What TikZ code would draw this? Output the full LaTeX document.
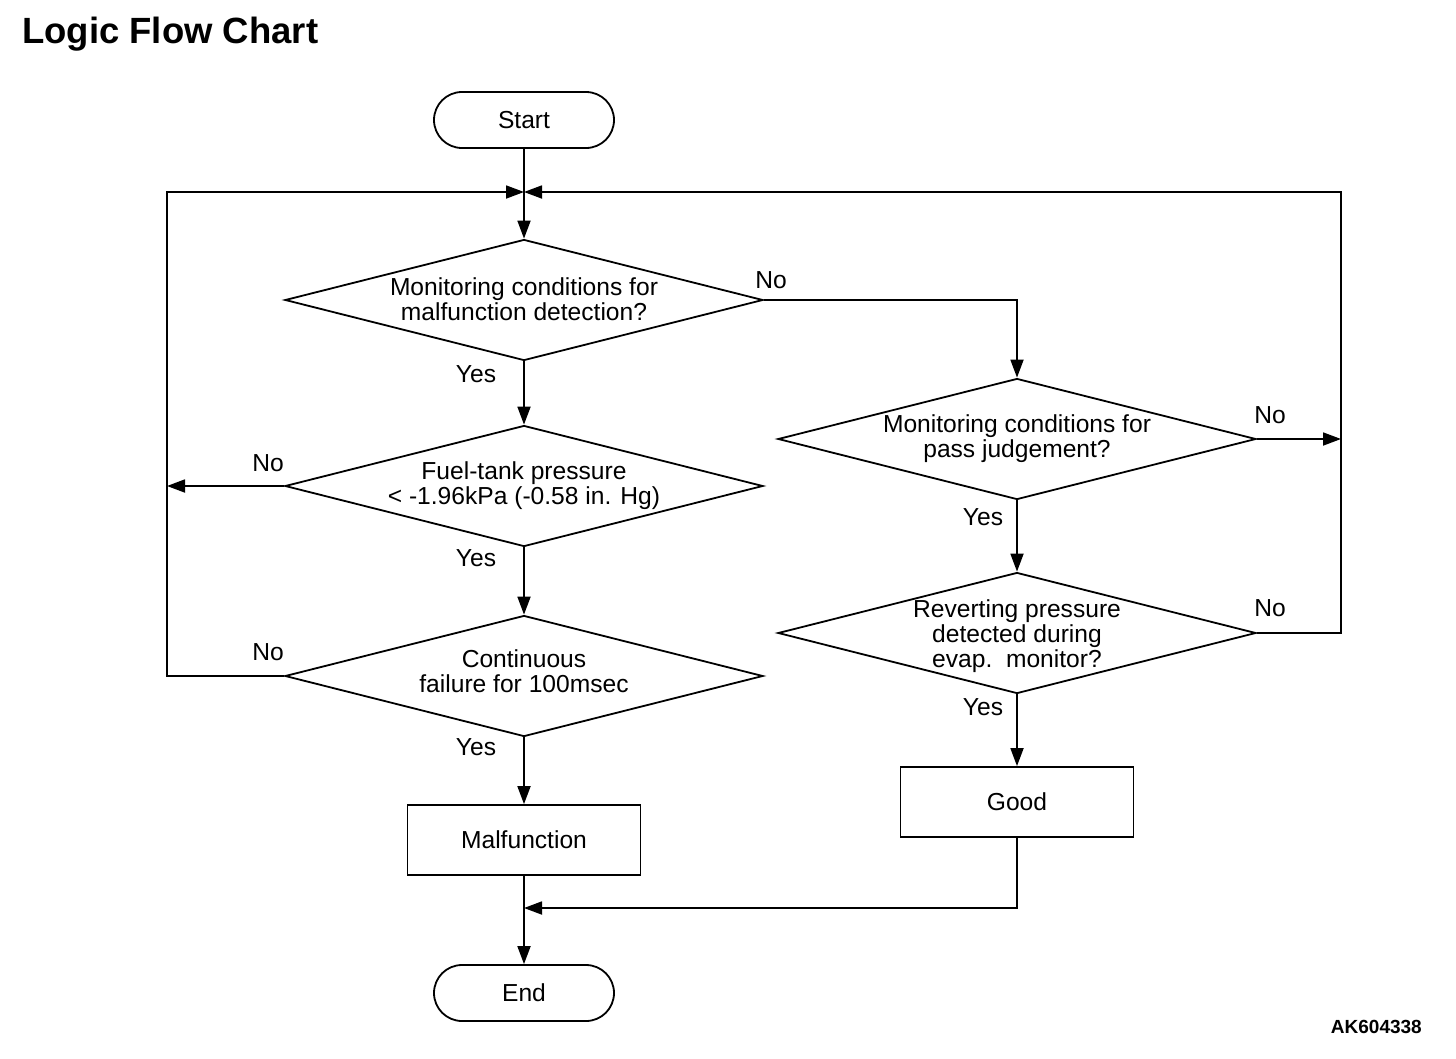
\documentclass[tikz,border=0pt]{standalone}
\usepackage{fontspec}
\setmainfont{Liberation Sans}
\usetikzlibrary{shapes.geometric,arrows.meta}
\begin{document}
\begin{tikzpicture}[x=1pt,y=-1pt,
  every node/.style={font=\fontsize{24.6}{25}\selectfont, inner sep=0pt},
  line/.style={line width=1.8pt},
  arr/.style={line width=1.8pt,-{Triangle[length=18pt,width=13pt]}},
  term/.style={draw,line width=1.8pt,rounded corners=28pt,minimum width=180pt,minimum height=56pt},
  proc/.style={draw,line width=1.8pt,minimum width=233pt,minimum height=70pt},
  dia/.style={draw,diamond,line width=1.8pt,minimum width=478pt,minimum height=121pt},
  txt/.style={align=center},
  lab/.style={}]
\useasboundingbox (0,0) rectangle (1456,1058);
\node[anchor=base west,font=\fontsize{36.5}{40}\selectfont\bfseries] (title) at (22,43) {Logic Flow Chart};
\node[anchor=base east,font=\fontsize{19}{22}\selectfont\bfseries] (code) at (1422,1033) {AK604338};

\node[term] (start) at (524,120) {Start};
\coordinate (j) at (524,192);
\node[dia] (d1) at (524,300) {};
\node[txt] (t1) at (524,299) {Monitoring conditions for\\malfunction detection?};
\node[dia] (d2) at (524,486) {};
\node[txt] (t2) at (524,486) {Fuel-tank pressure\\< -1.96kPa (-0.58 in. Hg)};
\node[dia] (d3) at (524,676) {};
\node[txt] (t3) at (524,671) {Continuous\\failure for 100msec};
\node[proc] (mal) at (524,840) {Malfunction};
\node[term] (end) at (524,993) {End};
\node[dia] (d4) at (1017,439) {};
\node[txt] (t4) at (1017,439) {Monitoring conditions for\\pass judgement?};
\node[dia] (d5) at (1017,633) {};
\node[txt] (t5) at (1017,636) {Reverting pressure\\detected during\\evap.\ \ monitor?};
\node[proc] (good) at (1017,802) {Good};

\coordinate (lt) at (167,192);
\coordinate (lb) at (167,676);
\coordinate (l2) at (167,486);
\coordinate (rt) at (1341,192);
\coordinate (rb) at (1341,633);
\coordinate (r4) at (1341,439);
\coordinate (c1) at (1017,300);
\coordinate (gb) at (1017,908);
\coordinate (m) at (524,908);

\draw[line] (start.south) -- (j);
\draw[arr] (j) -- (d1.north);
\draw[arr] (d1.south) -- (d2.north);
\draw[arr] (d2.south) -- (d3.north);
\draw[arr] (d3.south) -- (mal.north);
\draw[line] (mal.south) -- (m);
\draw[arr] (m) -- (end.north);
\draw[arr] (d2.west) -- (l2);
\draw[arr] (d3.west) -- (lb) -- (lt) -- (j);
\draw[arr] (d1.east) -- (c1) -- (d4.north);
\draw[arr] (d4.south) -- (d5.north);
\draw[arr] (d5.south) -- (good.north);
\draw[arr] (d4.east) -- (r4);
\draw[arr] (d5.east) -- (rb) -- (rt) -- (j);
\draw[arr] (good.south) -- (gb) -- (m);

\node[lab] (n1) at (771,280) {No};
\node[lab] (y1) at (476,374) {Yes};
\node[lab] (n2) at (268,463) {No};
\node[lab] (y2) at (476,558) {Yes};
\node[lab] (n3) at (268,652) {No};
\node[lab] (y3) at (476,747) {Yes};
\node[lab] (n4) at (1270,415) {No};
\node[lab] (y4) at (983,517) {Yes};
\node[lab] (n5) at (1270,608) {No};
\node[lab] (y5) at (983,707) {Yes};
\end{tikzpicture}
\end{document}
